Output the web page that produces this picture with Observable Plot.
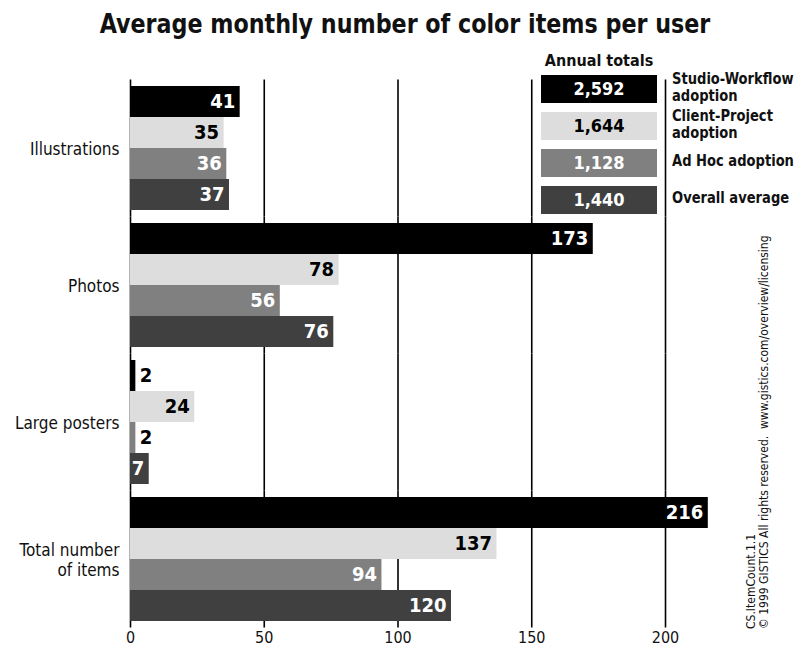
<!DOCTYPE html>
<html>
<head>
<meta charset="utf-8">
<script src="https://cdn.jsdelivr.net/npm/d3@7"></script>
<script src="https://cdn.jsdelivr.net/npm/@observablehq/plot@0.6"></script>
<style>
  html, body { margin: 0; padding: 0; background: #fff; }
  #wrap { position: relative; width: 810px; height: 648px; overflow: hidden;
    font-family: "DejaVu Sans Condensed", "Liberation Sans Narrow", Roboto, sans-serif; color: #111; }
  #chart { position: absolute; left: 0; top: 0; }
  #title { position: absolute; left: 0; width: 810px; top: 10px; line-height: 27px; text-align: center;
    font-size: 27px; font-weight: bold; white-space: nowrap; transform: scaleX(0.915); transform-origin: 405px 0; }
  #legend { position: absolute; left: 541px; top: 51px; }
  #legend .head { position: absolute; left: -10px; width: 136px; top: 0; text-align: center; font-weight: bold; font-size: 16px; white-space: nowrap; }
  #legend .box { position: absolute; left: 0; width: 116px; height: 28px; line-height: 28px; text-align: center; font-weight: bold; font-size: 18px; }
  #legend .lab { position: absolute; left: 131px; font-weight: bold; font-size: 15px; line-height: 17.5px; white-space: nowrap;
    transform: scaleX(0.97); transform-origin: 0 0; }
  #credit { position: absolute; left: 745px; top: 629px; transform-origin: 0 0; transform: rotate(-90deg);
    font-size: 12px; line-height: 13px; white-space: pre; color: #111; }
</style>
</head>
<body>
<div id="wrap">
  <div id="chart"></div>
  <div id="title">Average monthly number of color items per user</div>
  <div id="legend"></div>
  <div id="credit"></div>
</div>
<script>
const categories = ["Illustrations", "Photos", "Large posters", "Total number\nof items"];
const series = ["Studio-Workflow adoption", "Client-Project adoption", "Ad Hoc adoption", "Overall average"];
const seriesLabels = ["Studio-Workflow\nadoption", "Client-Project\nadoption", "Ad Hoc adoption", "Overall average"];
const colors = ["#000000", "#dddddd", "#808080", "#404040"];
const labelColors = ["#ffffff", "#000000", "#ffffff", "#ffffff"];
const studioWorkflow = [41, 173, 2, 216];
const clientProject = [35, 78, 24, 137];
const adHoc = [36, 56, 2, 94];
const overall = [37, 76, 7, 120];
const annualTotals = ["2,592", "1,644", "1,128", "1,440"];
const xTicks = [0, 50, 100, 150, 200];
const creditLines = ["CS.ItemCount.1.1", "\u00a9 1999 GISTICS All rights reserved.  www.gistics.com/overview/licensing"];

const seriesValues = [studioWorkflow, clientProject, adHoc, overall];
const data = [];
categories.forEach((c, ci) => {
  series.forEach((s, si) => {
    data.push({category: c, series: s, si, value: seriesValues[si][ci]});
  });
});
const outside = d => d.value < 5;

const font = '"DejaVu Sans Condensed", "Liberation Sans Narrow", Roboto, sans-serif';

const chart = Plot.plot({
  width: 810,
  height: 648,
  marginTop: 79.5,
  marginBottom: 20.5,
  marginLeft: 130,
  marginRight: 91.5,
  style: {fontFamily: font, fontSize: "16px", color: "#111", background: "transparent"},
  x: {domain: [0, 220], axis: null},
  y: {domain: series, paddingInner: 0, paddingOuter: 0.21, round: false, axis: null},
  fy: {domain: categories, padding: 0, round: false, axis: null},
  color: {domain: series, range: colors},
  marks: [
    Plot.ruleX(xTicks, {stroke: "#000", strokeWidth: 1.6}),
    Plot.barX(data, {x: "value", y: "series", fy: "category", fill: "series"}),
    ...series.map((s, si) => Plot.text(data.filter(d => d.si === si && !outside(d)), {
      x: "value", y: "series", fy: "category", text: d => String(d.value),
      textAnchor: "end", dx: -5, fill: labelColors[si], fontWeight: "bold", fontSize: 20
    })),
    Plot.text(data.filter(outside), {
      x: "value", y: "series", fy: "category", text: d => String(d.value),
      textAnchor: "start", dx: 4, fill: "#000", fontWeight: "bold", fontSize: 20
    }),
    Plot.axisX({ticks: xTicks, tickSize: 0, tickPadding: 4, fontSize: 16, label: null, fill: "#111"}),
    Plot.axisFy({anchor: "left", tickSize: 0, tickPadding: 11, fontSize: 17, lineHeight: 1.2, label: null, fill: "#111"})
  ]
});
document.getElementById("chart").appendChild(chart);

const legend = document.getElementById("legend");
const head = document.createElement("div");
head.className = "head";
head.textContent = "Annual totals";
legend.appendChild(head);
series.forEach((s, i) => {
  const top = 24 + i * 37;
  const box = document.createElement("div");
  box.className = "box";
  box.style.top = top + "px";
  box.style.background = colors[i];
  box.style.color = labelColors[i];
  box.textContent = annualTotals[i];
  legend.appendChild(box);
  const lab = document.createElement("div");
  lab.className = "lab";
  const lines = seriesLabels[i].split("\n");
  lab.style.top = (top + 14 - lines.length * 8.75 - 1) + "px";
  lab.innerHTML = lines.join("<br>");
  legend.appendChild(lab);
});
document.getElementById("credit").textContent = creditLines.join("\n");
</script>
</body>
</html>
